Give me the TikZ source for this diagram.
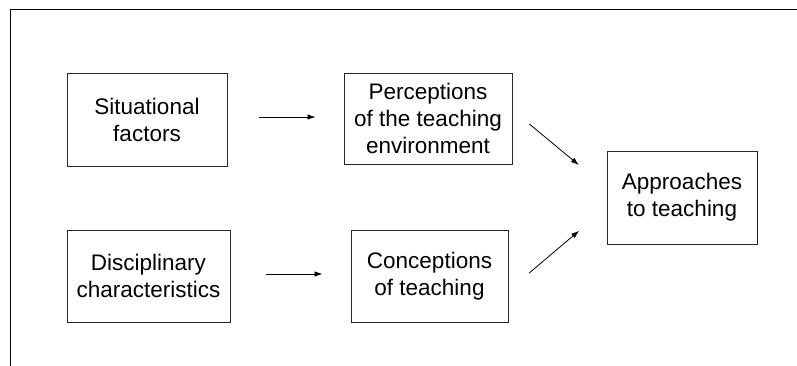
\documentclass[tikz,border=0pt]{standalone}
\usepackage{fontspec}
\setmainfont{Liberation Sans}
\usepackage{tikz}
\usetikzlibrary{arrows.meta}
\tikzset{box/.style={draw=black!85,line width=0.9pt,align=center,inner sep=2pt,font=\fontsize{22.5}{27}\selectfont}}

\begin{document}
\begin{tikzpicture}[x=1pt,y=-1pt,>={Latex[length=8pt,width=5.5pt]}]
        \useasboundingbox (0,0) rectangle (797,366);
        %frame
        \draw[line width=0.9pt] (797,9) -- (10,9) -- (10,366);
        %boxes
        \node[box,minimum width=160pt,minimum height=93pt] (sit) at (147,119.5) {Situational\\factors};
        \node[box,minimum width=163pt,minimum height=92pt] (disc) at (148.5,276) {Disciplinary\\characteristics};
        \node[box,minimum width=168pt,minimum height=91pt] (perc) at (428,118.5) {Perceptions\\of the teaching\\environment};
        \node[box,minimum width=157pt,minimum height=92pt] (conc) at (429.5,276) {Conceptions\\of teaching};
        \node[box,minimum width=150pt,minimum height=93pt] (appr) at (682,197.5) {Approaches\\to teaching};

        \draw[->,line width=0.8pt,shorten <=32pt,shorten >=28pt] ([yshift=2.5pt]sit.east) -- ([yshift=1.5pt]perc.west);
        \draw[->,line width=0.8pt,shorten <=36pt,shorten >=28pt] ([yshift=2pt]disc.east) -- ([yshift=2pt]conc.west);
        \draw[->,line width=0.8pt,shorten <=22pt,shorten >=36pt] ([yshift=8.5pt]perc.east) -- ([yshift=9.5pt]appr.west);
        \draw[->,line width=0.8pt,shorten <=27pt,shorten >=36pt] ([yshift=-14.6pt]conc.east) -- ([yshift=-10pt]appr.west);
    \end{tikzpicture}
\end{document}
